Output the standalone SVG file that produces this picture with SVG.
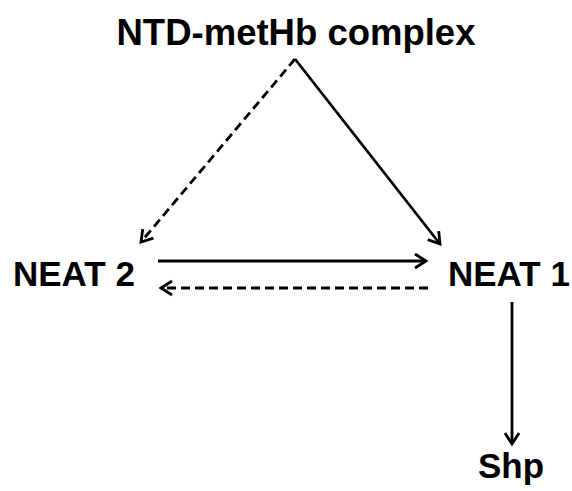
<svg xmlns="http://www.w3.org/2000/svg" width="572" height="491" viewBox="0 0 572 491">
<defs>
<style>
.lbl{font-family:"Liberation Sans",Arial,sans-serif;font-weight:bold;fill:#000;}
.c{fill:none;stroke:#000;stroke-width:2.8;}
.d{stroke-dasharray:9 5;}
</style>
<marker id="ah" markerUnits="userSpaceOnUse" markerWidth="20" markerHeight="20" viewBox="-13 -10 15 20" refX="0" refY="0" orient="auto">
<polyline points="-11,-7 0,0 -11,7" fill="none" stroke="#000" stroke-width="2.8" stroke-linejoin="miter"/>
</marker>
</defs>
<rect width="572" height="491" fill="#fff"/>
<g id="connectors">
<line class="c d" x1="295" y1="59" x2="141" y2="242" marker-end="url(#ah)"/>
<line class="c" x1="295" y1="59" x2="440" y2="244" marker-end="url(#ah)"/>
<line class="c" x1="158" y1="261" x2="426" y2="261" marker-end="url(#ah)"/>
<line class="c d" x1="428" y1="288" x2="161" y2="288" marker-end="url(#ah)"/>
<line class="c" x1="512" y1="302" x2="512" y2="444" marker-end="url(#ah)"/>
</g>
<g id="ntd"><text class="lbl" x="296" y="45" font-size="36.5" text-anchor="middle">NTD-metHb complex</text></g>
<g id="neat2"><text class="lbl" x="13" y="286" font-size="35">NEAT 2</text></g>
<g id="neat1"><text class="lbl" x="448" y="286" font-size="35">NEAT 1</text></g>
<g id="shp"><text class="lbl" x="511" y="478" font-size="35" text-anchor="middle">Shp</text></g>
</svg>
